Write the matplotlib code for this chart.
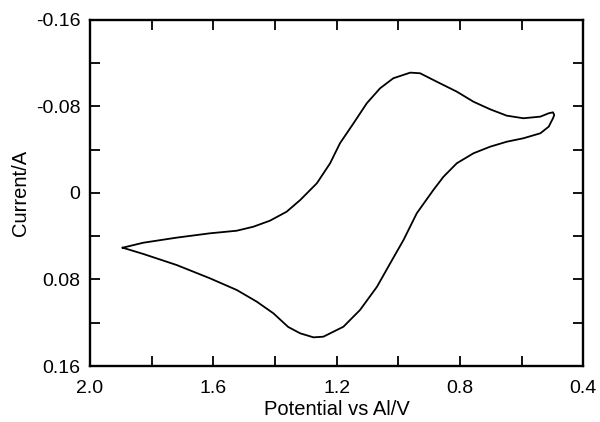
import matplotlib
matplotlib.use("Agg")
import matplotlib.pyplot as plt
from matplotlib.ticker import FixedLocator, FuncFormatter

# Cyclic voltammogram: forward sweep (upper branch) from 1.9 V down to 0.5 V
fwd_potential = [1.894, 1.827, 1.719, 1.611, 1.524, 1.470, 1.416, 1.362, 1.318,
                 1.264, 1.221, 1.189, 1.145, 1.102, 1.059, 1.016, 0.961, 0.929,
                 0.875, 0.810, 0.756, 0.702, 0.648, 0.594, 0.539, 0.512, 0.498,
                 0.494]
fwd_current = [0.0506, 0.0460, 0.0413, 0.0373, 0.0349, 0.0312, 0.0256, 0.0173,
               0.0065, -0.0090, -0.0275, -0.0460, -0.0645, -0.0830, -0.0968,
               -0.1061, -0.1113, -0.1107, -0.1029, -0.0937, -0.0844, -0.0774,
               -0.0715, -0.0691, -0.0706, -0.0737, -0.0746, -0.0721]

# Reverse sweep (lower branch) from 0.5 V back to 1.9 V
rev_potential = [0.498, 0.512, 0.539, 0.594, 0.648, 0.702, 0.756, 0.810, 0.853,
                 0.886, 0.940, 0.983, 1.026, 1.069, 1.124, 1.178, 1.243, 1.275,
                 1.318, 1.357, 1.405, 1.459, 1.524, 1.611, 1.719, 1.827, 1.894]
rev_current = [-0.0691, -0.0613, -0.0552, -0.0506, -0.0474, -0.0428, -0.0367,
               -0.0275, -0.0151, -0.0028, 0.0188, 0.0435, 0.0650, 0.0867,
               0.1082, 0.1237, 0.1329, 0.1335, 0.1298, 0.1239, 0.1113, 0.1005,
               0.0897, 0.0789, 0.0666, 0.0564, 0.0506]

x_major = [2.0, 1.6, 1.2, 0.8, 0.4]
x_minor = [1.8, 1.4, 1.0, 0.6]
y_major = [-0.16, -0.08, 0.0, 0.08, 0.16]
y_minor = [-0.12, -0.04, 0.04, 0.12]

plt.rcParams["font.family"] = ["Liberation Sans", "DejaVu Sans"]

fig = plt.figure(figsize=(6.0, 4.22), dpi=100)
ax = fig.add_axes([0.15, 0.1327, 0.822, 0.82])

ax.plot(fwd_potential + rev_potential, fwd_current + rev_current,
        color="black", lw=1.3, solid_joinstyle="round", antialiased=True)

ax.set_xlim(2.0, 0.4)
ax.set_ylim(0.16, -0.16)

ax.xaxis.set_major_locator(FixedLocator(x_major))
ax.xaxis.set_minor_locator(FixedLocator(x_minor))
ax.yaxis.set_major_locator(FixedLocator(y_major))
ax.yaxis.set_minor_locator(FixedLocator(y_minor))

ax.xaxis.set_major_formatter(FuncFormatter(lambda v, p: f"{v:.1f}"))
ax.yaxis.set_major_formatter(
    FuncFormatter(lambda v, p: "0" if abs(v) < 1e-9 else f"{v:.2f}"))

for which in ("major", "minor"):
    ax.tick_params(which=which, direction="in", length=7.5, width=1.3,
                   top=True, right=True, labelsize=14)
ax.tick_params(axis="x", which="major", pad=10)
ax.tick_params(axis="y", which="major", pad=7)

for s in ax.spines.values():
    s.set_linewidth(1.7)

ax.set_xlabel("Potential vs Al/V", fontsize=14.5, labelpad=2)
ax.set_ylabel("Current/A", fontsize=14.5, labelpad=4)

fig.savefig("out.png", dpi=100, facecolor="white")
